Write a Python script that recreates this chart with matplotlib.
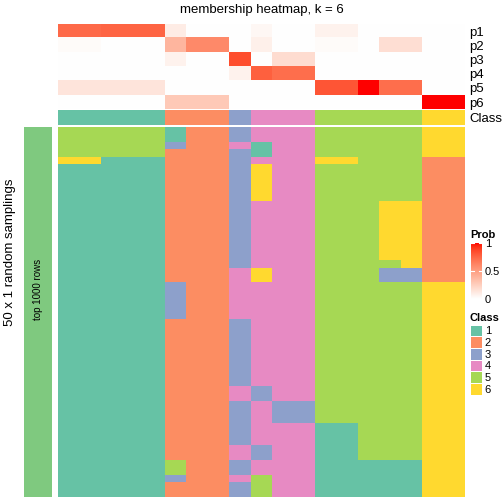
import numpy as np
import matplotlib
matplotlib.use("Agg")
import matplotlib.pyplot as plt
from matplotlib.colors import ListedColormap

plt.rcParams['font.family'] = ['Liberation Sans', 'DejaVu Sans']

W = H = 504

# membership probabilities, one row per class, one column per sample
prob_labels = ["p1", "p2", "p3", "p4", "p5", "p6"]
p1 = [0.74, 0.74, 0.76, 0.76, 0.76, 0.10, 0, 0, 0, 0.04, 0, 0, 0.07, 0.07, 0, 0, 0, 0, 0]
p2 = [0.02, 0.02, 0, 0, 0, 0.38, 0.60, 0.60, 0, 0.08, 0, 0, 0.02, 0.02, 0, 0.17, 0.17, 0, 0]
p3 = [0, 0, 0, 0, 0, 0.07, 0, 0, 0.85, 0, 0.18, 0.18, 0, 0, 0, 0, 0, 0, 0]
p4 = [0, 0, 0, 0, 0, 0, 0, 0, 0.07, 0.78, 0.72, 0.72, 0, 0, 0, 0, 0, 0, 0]
p5 = [0.14, 0.14, 0.14, 0.14, 0.14, 0, 0, 0, 0, 0, 0, 0, 0.82, 0.82, 1.0, 0.72, 0.72, 0, 0]
p6 = [0, 0, 0, 0, 0, 0.28, 0.28, 0.28, 0, 0, 0, 0, 0, 0, 0, 0, 0, 1.0, 1.0]

# consensus class of each sample
consensus = [1, 1, 1, 1, 1, 2, 2, 2, 3, 4, 4, 4, 5, 5, 5, 5, 5, 6, 6]

# class of each sample in each of the 50 random samplings
samplings = (
    ["5555512234445555566"] * 2
    + ["5555532241445555566", "5555522231445555566", "6611122234446655522"]
    + ["1111122236445555522"] * 5
    + ["1111122234445556622"] * 8
    + ["1111122234445555622"]
    + ["1111122246445553322"] * 2
    + ["1111132244445555566"] * 5
    + ["1111122234445555566"] * 9
    + ["1111122243445555566"] * 2
    + ["1111122234335555566"] * 3
    + ["1111122234441155566"] * 3
    + ["1111122243441155566"] * 2
    + ["1111152234441111166"] * 2
    + ["1111132245441111166"]
    + ["1111122235441111166"] * 2
)

class_names = ["1", "2", "3", "4", "5", "6"]
class_colors = ["#66C2A5", "#FC8D62", "#8DA0CB", "#E78AC3", "#A6D854", "#FFD92F"]

M_XYZ = np.array([[0.4124, 0.3576, 0.1805], [0.2126, 0.7152, 0.0722], [0.0193, 0.1192, 0.9505]])
D65 = np.array([0.95047, 1.0, 1.08883])


def rgb_to_lab(rgb):
    c = np.asarray(rgb, float)
    lin = np.where(c <= 0.04045, c / 12.92, ((c + 0.055) / 1.055) ** 2.4)
    xyz = M_XYZ @ lin / D65
    d = 6 / 29
    f = np.where(xyz > d ** 3, np.cbrt(xyz), xyz / (3 * d * d) + 4 / 29)
    return np.array([116 * f[1] - 16, 500 * (f[0] - f[1]), 200 * (f[1] - f[2])])


def lab_to_rgb(lab):
    L, a, b = lab
    fy = (L + 16) / 116
    f = np.array([fy + a / 500, fy, fy - b / 200])
    d = 6 / 29
    xyz = np.where(f > d, f ** 3, 3 * d * d * (f - 4 / 29)) * D65
    lin = np.clip(np.linalg.inv(M_XYZ) @ xyz, 0, 1)
    c = np.where(lin <= 0.0031308, 12.92 * lin, 1.055 * lin ** (1 / 2.4) - 0.055)
    return np.clip(c, 0, 1)


# white -> red ramp interpolated in LAB space
lab_w, lab_r = rgb_to_lab([1, 1, 1]), rgb_to_lab([1, 0, 0])
prob_cmap = ListedColormap([lab_to_rgb((1 - t) * lab_w + t * lab_r) for t in np.linspace(0, 1, 256)])
class_cmap = ListedColormap(class_colors)


def box(x0, y0, x1, y1):
    return [x0 / W, 1 - y1 / H, (x1 - x0) / W, (y1 - y0) / H]


def clean(ax):
    for s in ax.spines.values():
        s.set_visible(False)
    ax.set_xticks([])
    ax.set_yticks([])


fig = plt.figure(figsize=(W / 100, H / 100), dpi=100)

# top annotation: probabilities
prob = np.array([p1, p2, p3, p4, p5, p6])
ax_p = fig.add_axes(box(58, 24, 465, 109.3))
ax_p.imshow(prob, cmap=prob_cmap, vmin=0, vmax=1, aspect='auto', interpolation='nearest')
clean(ax_p)
ax_p.yaxis.tick_right()
ax_p.set_yticks(range(len(prob_labels)))
ax_p.set_yticklabels(prob_labels, fontsize=9.5)
ax_p.tick_params(axis='y', length=0, pad=3)

# top annotation: consensus class
ax_c = fig.add_axes(box(58, 110.3, 465, 124.7))
ax_c.imshow(np.array([consensus]), cmap=class_cmap, vmin=0.5, vmax=6.5, aspect='auto', interpolation='nearest')
clean(ax_c)
ax_c.yaxis.tick_right()
ax_c.set_yticks([0])
ax_c.set_yticklabels(["Class"], fontsize=9.5)
ax_c.tick_params(axis='y', length=0, pad=3)

# main heatmap: class per sampling
mat = np.array([[int(ch) for ch in row] for row in samplings])
ax_m = fig.add_axes(box(58, 127, 465, 497))
ax_m.imshow(mat, cmap=class_cmap, vmin=0.5, vmax=6.5, aspect='auto', interpolation='nearest')
clean(ax_m)

# row split bar
ax_g = fig.add_axes(box(24, 127, 52, 497))
ax_g.set_facecolor("#7FC97F")
clean(ax_g)
ax_g.text(0.5, 0.56, "top 1000 rows", rotation=90, ha='center', va='center',
          fontsize=7, transform=ax_g.transAxes)

fig.text(262 / W, 1 - 10 / H, "membership heatmap, k = 6", ha='center', va='center', fontsize=9.5)
fig.text(10 / W, 1 - 252 / H, "50 x 1 random samplings", rotation=90, ha='center', va='center', fontsize=9.5)

# Prob legend
fig.text(470 / W, 1 - 235 / H, "Prob", fontsize=8, fontweight='bold', va='center', ha='left')
ax_cb = fig.add_axes(box(471, 243, 482, 299))
ax_cb.imshow(np.linspace(1, 0, 100).reshape(-1, 1), cmap=prob_cmap, vmin=0, vmax=1,
             aspect='auto', extent=[0, 1, 0, 1])
clean(ax_cb)
for v in [0.5, 1.0]:
    ax_cb.plot([0, 0.25], [v, v], color='white', lw=0.8)
    ax_cb.plot([0.75, 1], [v, v], color='white', lw=0.8)
ax_cb.set_xlim(0, 1)
ax_cb.set_ylim(0, 1)
ax_cb.yaxis.tick_right()
ax_cb.set_yticks([0, 0.5, 1])
ax_cb.set_yticklabels(["0", "0.5", "1"], fontsize=8)
ax_cb.tick_params(axis='y', length=0, pad=2)

# Class legend
fig.text(470 / W, 1 - 318 / H, "Class", fontsize=8, fontweight='bold', va='center', ha='left')
ax_l = fig.add_axes(box(470, 324.5, 482, 394.5))
ax_l.pcolormesh(np.arange(1, 7).reshape(-1, 1), cmap=class_cmap, vmin=0.5, vmax=6.5,
                edgecolors='white', linewidth=0.6)
ax_l.invert_yaxis()
clean(ax_l)
ax_l.yaxis.tick_right()
ax_l.set_yticks(np.arange(6) + 0.5)
ax_l.set_yticklabels(class_names, fontsize=8)
ax_l.tick_params(axis='y', length=0, pad=2)

fig.savefig("out.png", dpi=100)
